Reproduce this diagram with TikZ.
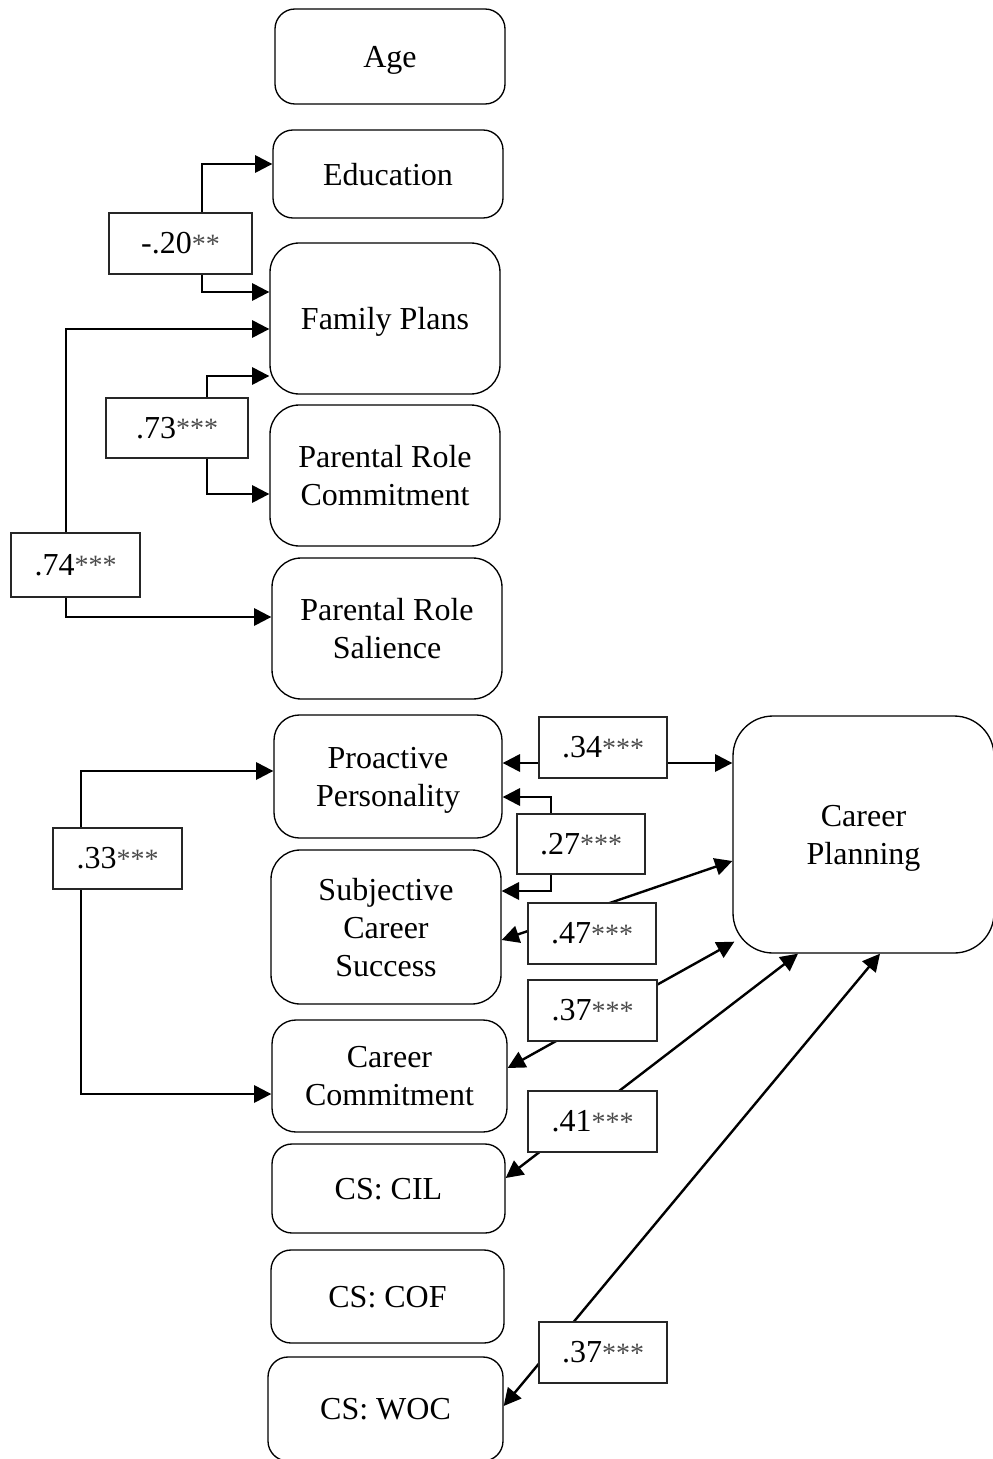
\documentclass[tikz,border=0pt]{standalone}
\usepackage{fontspec}
\setmainfont{Liberation Serif}
\usetikzlibrary{arrows.meta}
\pgfdeclarelayer{bg}
\pgfsetlayers{bg,main}
\newcommand\sig[1]{{\fontsize{21}{21}\selectfont\color{black!70}\raisebox{0.5pt}{#1}}}
\begin{document}
\begin{tikzpicture}[x=0.75pt,y=-0.75pt,
  txt/.style={font=\fontsize{24}{28.5}\selectfont},
  sz/.style n args={2}{minimum width=#1*0.75pt, minimum height=#2*0.75pt},
  box/.style={txt, draw=black, line width=1pt, inner sep=0pt, align=center, text depth=0pt},
  lab/.style={txt, draw=black!85, line width=0.8pt, fill=white, inner sep=0pt},
  tip/.tip={Triangle[length=13pt,width=13pt]},
  conn/.style={line width=1.8pt, tip-tip}
]
\useasboundingbox (0,0) rectangle (992,1459);

% variable boxes
\node[box, rounded corners=15pt, sz={230}{95}]  (age) at (390,56.5)   {Age};
\node[box, rounded corners=15pt, sz={230}{88}]  (edu) at (388,174)    {Education};
\node[box, rounded corners=22pt, sz={230}{151}] (fp)  at (385,318.5)  {Family Plans};
\node[box, rounded corners=22pt, sz={230}{141}] (prc) at (385,475.5)  {Parental Role\\Commitment};
\node[box, rounded corners=22pt, sz={230}{141}] (prs) at (387,628.5)  {Parental Role\\Salience};
\node[box, rounded corners=19pt, sz={228}{123}] (pp)  at (388,776.5)  {Proactive\\Personality};
\node[box, rounded corners=22pt, sz={230}{154}] (scs) at (386,927)    {Subjective\\Career\\Success};
\node[box, rounded corners=18pt, sz={235}{112}] (cc)  at (389.5,1076) {Career\\Commitment};
\node[box, rounded corners=15pt, sz={233}{89}]  (cil) at (388.5,1188.5) {CS: CIL};
\node[box, rounded corners=15pt, sz={233}{93}]  (cof) at (387.5,1296.5) {CS: COF};
\node[box, rounded corners=15pt, sz={235}{104}] (woc) at (385.5,1409) {CS: WOC};
\node[box, rounded corners=30pt, sz={261}{237}] (cp)  at (863.5,834.5) {Career\\Planning};

% coefficient labels
\node[lab, sz={143}{61}] (l20)  at (180.5,243.5) {-.20\sig{**}};
\node[lab, sz={142}{60}] (l73)  at (177,428)     {.73\sig{***}};
\node[lab, sz={129}{64}] (l74)  at (75.5,565)    {.74\sig{***}};
\node[lab, sz={128}{61}] (l34)  at (603,747.5)   {.34\sig{***}};
\node[lab, sz={128}{60}] (l27)  at (581,844)     {.27\sig{***}};
\node[lab, sz={129}{61}] (l33)  at (117.5,858.5) {.33\sig{***}};
\node[lab, sz={128}{61}] (l47)  at (592,933.5)   {.47\sig{***}};
\node[lab, sz={129}{61}] (l37a) at (592.5,1010.5) {.37\sig{***}};
\node[lab, sz={129}{61}] (l41)  at (592.5,1121.5) {.41\sig{***}};
\node[lab, sz={128}{61}] (l37b) at (603,1352.5)  {.37\sig{***}};

\begin{pgfonlayer}{bg}
% left-side correlations
\draw[conn] (edu.west |- 0,164) -- (202,164) -- (202,292) -- (fp.west |- 0,292);
\draw[conn] (fp.west |- 0,376) -- (207,376) -- (207,494) -- (prc.west |- 0,494);
\draw[conn] (fp.west |- 0,329) -- (66,329) -- (66,617) -- (prs.west |- 0,617);
\draw[conn] (pp.west |- 0,771) -- (81,771) -- (81,1094) -- (cc.west |- 0,1094);
% right-side correlations
\draw[conn] (pp.east |- 0,763) -- (cp.west |- 0,763);
\draw[conn] (pp.east |- 0,797) -- (551,797) -- (551,891) -- (scs.east |- 0,891);
\draw[conn] (scs.east |- 0,940) -- (cp.west |- 0,861);
\draw[conn] (cc.east |- 0,1068) -- ([shift={(2,-12)}]cp.south west);
\draw[conn] (cil.east |- 0,1178) -- (cp.south -| 798,0);
\draw[conn] (woc.east |- 0,1406) -- (cp.south -| 880,0);
\end{pgfonlayer}
\end{tikzpicture}
\end{document}
